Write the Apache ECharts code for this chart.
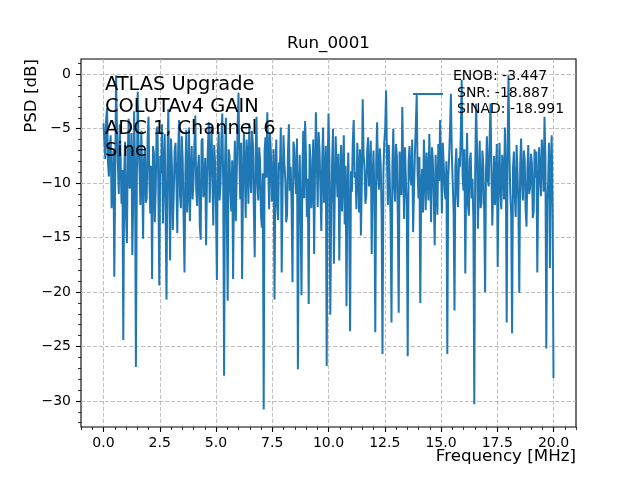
<!DOCTYPE html>
<html>
<head>
<meta charset="utf-8">
<script src="https://cdn.jsdelivr.net/npm/echarts@6/dist/echarts.min.js"></script>
<style>
  html, body { margin: 0; padding: 0; background: #fff; }
  #chart { width: 640px; height: 480px; }
</style>
</head>
<body>
<div id="chart"></div>
<script>
const FONT = '"DejaVu Sans", Verdana, sans-serif';
const BLUE = '#1f77b4';

// frequency grid: 0 .. 20 MHz, one bin every 0.04 MHz
const FREQ_STEP = 0.04;

// PSD values in dB (one row = 0.8 MHz)
const psd = [
  -4.5, -6.2, -7.8, -4.0, -3.1, -8.1, -9.4, -6.7, -5.6, -12.3, -10.2, -7.0, -18.6, -9.5, -0.1, -5.3, -8.3, -11.0, -4.6, -7.6,
  -11.9, -8.8, -24.4, -9.1, -6.2, -13.0, -15.5, -7.2, -4.1, -10.5, -9.8, -5.4, -16.6, -11.7, -3.4, -8.0, -26.9, -10.2, -1.6, -6.5,
  -8.7, -12.0, -5.2, -9.3, -15.1, -7.8, -6.9, -11.8, -11.4, -6.0, -3.9, -9.7, -12.8, -8.4, -18.8, -6.6, -7.3, -13.6, -10.6, -5.1,
  -4.8, -10.9, -19.4, -7.5, -9.1, -4.6, -13.7, -9.0, -5.5, -12.6, -20.7, -8.2, -3.2, -10.0, -17.1, -5.9, -8.4, -14.3, -11.2, -7.1,
  -6.3, -9.8, -14.6, -6.8, -4.2, -11.1, -12.3, -5.7, -7.9, -13.2, -18.2, -8.9, -5.1, -12.7, -10.7, -4.9, -13.5, -9.4, -6.6, -11.5,
  -9.9, -6.4, -3.8, -10.6, -12.1, -8.6, -7.4, -13.9, -15.2, -6.1, -5.9, -11.3, -10.4, -7.7, -15.7, -9.6, -6.7, -4.4, -11.8, -8.3,
  -4.7, -9.2, -13.9, -6.5, -8.2, -12.4, -18.9, -7.3, -5.3, -11.6, -10.1, -5.8, -3.6, -9.9, -27.7, -8.5, -4.0, -12.9, -20.8, -6.9,
  -7.5, -10.8, -12.6, -7.9, -18.8, -9.7, -6.1, -13.5, -9.3, -4.8, -1.7, -8.0, -11.5, -6.3, -18.8, -10.3, -5.4, -8.7, -13.2, -6.0,
  -7.7, -11.9, -4.5, -8.9, -10.9, -5.2, -6.4, -12.2, -16.8, -7.4, -3.9, -10.1, -11.6, -6.7, -8.0, -13.0, -14.1, -9.1, -30.8, -7.0,
  -5.8, -9.5, -3.5, -7.8, -12.4, -5.5, -7.1, -11.7, -10.3, -6.9, -20.7, -9.0, -6.0, -12.1, -13.4, -8.1, -8.8, -4.9, -18.2, -10.4,
  -5.6, -8.2, -9.7, -13.6, -12.9, -7.0, -4.6, -10.7, -8.5, -12.0, -19.1, -6.2, -6.8, -9.4, -11.0, -5.9, -27.1, -10.5, -7.4, -12.8,
  -20.3, -8.7, -5.2, -11.4, -4.3, -7.5, -13.1, -9.6, -21.1, -6.4, -7.8, -12.3, -10.5, -6.0, -16.5, -9.1, -3.5, -7.9, -12.2, -5.3,
  -6.9, -10.4, -14.4, -8.0, -4.9, -11.8, -9.6, -6.6, -26.8, -9.2, -3.6, -7.7, -22.1, -12.5, -8.1, -5.0, -17.4, -10.9, -5.7, -8.8,
  -11.3, -7.3, -17.1, -9.9, -6.5, -12.6, -9.4, -5.6, -13.8, -8.4, -21.3, -11.0, -7.2, -13.3, -23.6, -8.9, -10.8, -6.2, -4.2, -9.5,
  -9.0, -12.4, -6.3, -8.7, -12.7, -6.9, -14.8, -10.1, -2.3, -7.4, -8.6, -11.9, -11.1, -7.0, -5.8, -10.3, -9.2, -6.1, -16.5, -9.7,
  -7.0, -11.2, -23.7, -8.1, -4.4, -9.3, -10.6, -6.8, -8.3, -12.7, -25.7, -9.0, -6.2, -5.0, -1.5, -7.9, -12.0, -6.5, -9.5, -13.4,
  -22.8, -8.3, -5.0, -10.4, -11.7, -6.4, -7.6, -12.9, -21.9, -7.1, -8.9, -11.1, -3.0, -8.6, -13.3, -6.7, -9.8, -12.1, -25.9, -8.0,
  -6.6, -9.4, -10.2, -6.0, -14.5, -10.8, -7.3, -4.8, -1.9, -9.1, -11.4, -7.6, -21.0, -10.0, -8.7, -12.7, -6.0, -9.0, -12.5, -7.2,
  -9.1, -11.6, -5.5, -8.8, -13.6, -6.7, -8.0, -11.3, -15.7, -7.4, -10.1, -12.9, -6.4, -9.8, -4.2, -8.1, -12.8, -6.3, -8.3, -10.7,
  -11.5, -8.0, -25.7, -9.6, -7.7, -5.1, -1.8, -7.2, -9.9, -12.6, -21.7, -8.5, -6.8, -10.9, -12.2, -7.7, -8.5, -5.4, -0.5, -9.3,
  -10.7, -6.9, -18.3, -9.8, -5.4, -12.0, -13.0, -7.9, -7.2, -11.4, -9.6, -13.5, -30.3, -8.8, -2.7, -6.6, -14.2, -10.2, -6.1, -12.3,
  -11.8, -7.0, -8.4, -12.6, -20.0, -8.9, -5.7, -9.7, -10.3, -6.1, -2.7, -8.4, -13.9, -10.6, -7.5, -12.0, -9.2, -6.4, -17.7, -9.9,
  -6.3, -10.8, -12.4, -7.4, -8.8, -11.5, -4.9, -9.0, -22.8, -6.8, -0.1, -7.3, -10.9, -12.9, -23.8, -8.6, -7.1, -11.2, -13.1, -6.5,
  -9.0, -12.2, -20.1, -8.3, -5.9, -10.0, -11.6, -7.0, -7.8, -12.4, -14.0, -8.8, -6.5, -11.0, -10.4, -7.3, -8.2, -13.2, -12.6, -6.9,
  -9.5, -7.1, -18.2, -10.5, -6.7, -9.2, -11.2, -6.0, -8.0, -10.8, -3.9, -7.6, -25.2, -11.7, -10.1, -6.3, -17.8, -8.5, -5.6, -12.4,
  -27.9
];

const xTicks = [0, 2.5, 5, 7.5, 10, 12.5, 15, 17.5, 20];
const yTicks = [-30, -25, -20, -15, -10, -5, 0];
const legendLines = ['ENOB: -3.447', 'SNR: -18.887', 'SINAD: -18.991'];
const noteText = 'ATLAS Upgrade\nCOLUTAv4 GAIN\nADC 1, Channel 6\nSine';

const X_MIN = -1, X_MAX = 21;
const Y_MIN = -32.4, Y_MAX = 1.4;

const xMinor = [];
for (let v = X_MIN; v <= X_MAX + 1e-9; v += 0.5) xMinor.push(+v.toFixed(2));
const yMinor = [];
for (let v = -32; v <= 1; v += 1) yMinor.push(v);

const points = psd.map((v, i) => [+(i * FREQ_STEP).toFixed(2), v]);
const minus = s => String(s).replace('-', '\u2212');

const chart = echarts.init(document.getElementById('chart'), null, { renderer: 'canvas' });

const tickLabel = { fontFamily: FONT, fontSize: 14, color: '#000' };
const gridLine = { show: true, lineStyle: { color: '#b0b0b0', type: [4, 2], width: 0.8 } };

chart.setOption({
  animation: false,
  grid: {
    left: 81, top: 59, width: 495, height: 368,
    show: true, borderColor: '#000', borderWidth: 1.1, backgroundColor: 'transparent',
  },
  xAxis: [
    {
      type: 'value', min: X_MIN, max: X_MAX, position: 'bottom',
      axisLine: { show: false, onZero: false },
      axisTick: { show: true, customValues: xTicks, length: 5, lineStyle: { color: '#000', width: 1.1 } },
      axisLabel: { show: true, customValues: xTicks, margin: 9, ...tickLabel, formatter: v => minus(v.toFixed(1)) },
      splitLine: gridLine,
    },
    {
      type: 'value', min: X_MIN, max: X_MAX, position: 'bottom',
      axisLine: { show: false, onZero: false },
      axisTick: { show: true, customValues: xMinor, length: 3, lineStyle: { color: '#000', width: 0.8 } },
      axisLabel: { show: false },
      splitLine: { show: false },
    },
  ],
  yAxis: [
    {
      type: 'value', min: Y_MIN, max: Y_MAX, position: 'left',
      axisLine: { show: false, onZero: false },
      axisTick: { show: true, customValues: yTicks, length: 5, lineStyle: { color: '#000', width: 1.1 } },
      axisLabel: { show: true, customValues: yTicks, margin: 10, ...tickLabel, formatter: v => minus(v) },
      splitLine: gridLine,
    },
    {
      type: 'value', min: Y_MIN, max: Y_MAX, position: 'left',
      axisLine: { show: false, onZero: false },
      axisTick: { show: true, customValues: yMinor, length: 3, lineStyle: { color: '#000', width: 0.8 } },
      axisLabel: { show: false },
      splitLine: { show: false },
    },
  ],
  series: [{
    type: 'line',
    xAxisIndex: 0,
    yAxisIndex: 0,
    data: points,
    showSymbol: false,
    symbol: 'none',
    lineStyle: { color: BLUE, width: 2 },
    clip: true,
    z: 2,
  }],
  graphic: [
    // title
    { type: 'text', x: 328.5, y: 44, z: 10,
      style: { text: 'Run_0001', fontFamily: FONT, fontSize: 16.7, fill: '#000', align: 'center', verticalAlign: 'middle' } },
    // axis names
    { type: 'text', x: 576, y: 457, z: 10,
      style: { text: 'Frequency [MHz]', fontFamily: FONT, fontSize: 16.7, fill: '#000', align: 'right', verticalAlign: 'middle' } },
    { type: 'text', x: 32, y: 59, rotation: Math.PI / 2, z: 10,
      style: { text: 'PSD [dB]', fontFamily: FONT, fontSize: 16.7, fill: '#000', align: 'right', verticalAlign: 'middle' } },
    // annotation
    { type: 'text', x: 105, y: 73.5, z: 10,
      style: { text: noteText, fontFamily: FONT, fontSize: 19.4, lineHeight: 22, fill: '#000', align: 'left', verticalAlign: 'top' } },
    // legend
    { type: 'line', z: 10, shape: { x1: 413, y1: 94, x2: 443, y2: 94 }, style: { stroke: BLUE, lineWidth: 2 } },
    { type: 'text', x: 453, y: 76, z: 10,
      style: { text: legendLines[0], fontFamily: FONT, fontSize: 14, fill: '#000', align: 'left', verticalAlign: 'middle' } },
    { type: 'text', x: 457, y: 93, z: 10,
      style: { text: legendLines[1], fontFamily: FONT, fontSize: 14, fill: '#000', align: 'left', verticalAlign: 'middle' } },
    { type: 'text', x: 457, y: 109.5, z: 10,
      style: { text: legendLines[2], fontFamily: FONT, fontSize: 14, fill: '#000', align: 'left', verticalAlign: 'middle' } },
  ],
});
</script>
</body>
</html>
